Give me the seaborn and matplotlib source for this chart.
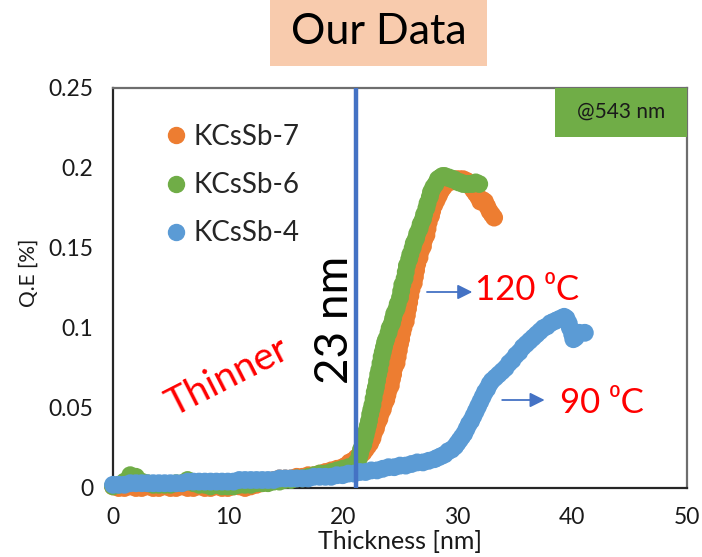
import matplotlib
matplotlib.use("Agg")
import matplotlib.pyplot as plt
from matplotlib.lines import Line2D
from matplotlib.patches import Rectangle
import pandas as pd
import seaborn as sns

# Samples, drawn in this order (KCsSb-4 ends up on top)
series_names = ["KCsSb-7", "KCsSb-6", "KCsSb-4"]
series_colors = ["#ED7D31", "#70AD47", "#5B9BD5"]

# KCsSb-7 (120 C)
kcssb7_thickness = [
    0.0, 0.5, 1.0, 1.5, 2.0, 2.5, 3.0, 3.5, 4.0, 4.5,
    5.0, 5.5, 6.0, 6.5, 7.0, 7.5, 8.0, 8.5, 9.0, 9.5,
    10.0, 10.5, 11.0, 11.5, 12.0, 12.5, 13.0, 13.5, 14.0, 14.5,
    15.0, 15.5, 16.0, 16.5, 17.0, 17.5, 18.0, 18.5, 19.0, 19.5,
    20.0, 20.3, 20.6, 20.9, 21.2, 21.5, 21.8, 22.0, 22.2, 22.4,
    22.6, 22.7, 22.9, 23.0, 23.2, 23.3, 23.5, 23.6, 23.8, 23.9,
    24.0, 24.2, 24.3, 24.4, 24.5, 24.7, 24.8, 24.9, 25.0, 25.1,
    25.2, 25.3, 25.5, 25.6, 25.7, 25.8, 25.9, 26.0, 26.2, 26.3,
    26.4, 26.5, 26.7, 26.8, 27.0, 27.1, 27.3, 27.4, 27.5, 27.7,
    27.8, 28.0, 28.2, 28.4, 28.6, 28.8, 29.0, 29.3, 29.6, 29.9,
    30.2, 30.5, 30.8, 31.0, 31.2, 31.4, 31.6, 31.8, 32.0, 32.2,
    32.4, 32.6, 32.8, 33.0, 33.2,
]
kcssb7_qe = [
    0.001, 0.000, 0.000, 0.001, 0.000, 0.000, 0.001, 0.000, 0.000, 0.001,
    0.000, 0.000, 0.001, 0.000, 0.000, 0.001, 0.000, 0.000, 0.001, 0.000,
    0.000, 0.001, 0.001, 0.000, 0.001, 0.002, 0.003, 0.004, 0.005, 0.006,
    0.006, 0.006, 0.007, 0.007, 0.008, 0.008, 0.009, 0.010, 0.011, 0.012,
    0.013, 0.014, 0.016, 0.017, 0.019, 0.020, 0.022, 0.024, 0.026, 0.028,
    0.031, 0.034, 0.037, 0.040, 0.043, 0.046, 0.049, 0.052, 0.055, 0.058,
    0.061, 0.064, 0.068, 0.071, 0.075, 0.078, 0.082, 0.086, 0.090, 0.093,
    0.097, 0.100, 0.104, 0.108, 0.112, 0.116, 0.120, 0.124, 0.128, 0.132,
    0.136, 0.140, 0.144, 0.148, 0.151, 0.155, 0.158, 0.162, 0.166, 0.170,
    0.173, 0.177, 0.180, 0.183, 0.186, 0.188, 0.190, 0.191, 0.192, 0.193,
    0.193, 0.193, 0.192, 0.190, 0.188, 0.186, 0.184, 0.182, 0.179, 0.180,
    0.179, 0.176, 0.173, 0.171, 0.169,
]

# KCsSb-6 (120 C)
kcssb6_thickness = [
    0.0, 0.5, 1.0, 1.5, 2.0, 2.5, 3.0, 3.5, 4.0, 4.5,
    5.0, 5.5, 6.0, 6.5, 7.0, 7.5, 8.0, 8.5, 9.0, 9.5,
    10.0, 10.5, 11.0, 11.5, 12.0, 12.5, 13.0, 13.5, 14.0, 14.5,
    15.0, 15.5, 16.0, 16.5, 17.0, 17.5, 18.0, 18.5, 19.0, 19.5,
    20.0, 20.5, 21.0, 21.2, 21.4, 21.5, 21.6, 21.8, 21.9, 22.0,
    22.1, 22.2, 22.3, 22.4, 22.5, 22.6, 22.7, 22.8, 22.9, 23.0,
    23.1, 23.2, 23.3, 23.4, 23.5, 23.6, 23.7, 23.8, 24.0, 24.1,
    24.3, 24.4, 24.5, 24.7, 24.8, 25.0, 25.1, 25.2, 25.4, 25.5,
    25.6, 25.8, 25.9, 26.1, 26.2, 26.4, 26.5, 26.7, 26.8, 27.0,
    27.1, 27.3, 27.4, 27.6, 27.7, 27.9, 28.1, 28.3, 28.5, 28.7,
    28.9, 29.1, 29.3, 29.5, 29.7, 29.9, 30.1, 30.3, 30.5, 30.8,
    31.0, 31.3, 31.6, 31.9,
]
kcssb6_qe = [
    0.001, 0.002, 0.004, 0.008, 0.007, 0.004, 0.003, 0.002, 0.002, 0.002,
    0.002, 0.003, 0.003, 0.005, 0.003, 0.002, 0.002, 0.001, 0.002, 0.001,
    0.001, 0.001, 0.002, 0.002, 0.002, 0.003, 0.003, 0.003, 0.004, 0.004,
    0.005, 0.005, 0.006, 0.006, 0.007, 0.008, 0.009, 0.009, 0.010, 0.011,
    0.012, 0.013, 0.014, 0.016, 0.018, 0.021, 0.024, 0.027, 0.030, 0.033,
    0.036, 0.039, 0.042, 0.046, 0.049, 0.052, 0.056, 0.060, 0.063, 0.067,
    0.071, 0.074, 0.078, 0.082, 0.085, 0.088, 0.091, 0.093, 0.097, 0.100,
    0.103, 0.106, 0.109, 0.112, 0.115, 0.119, 0.123, 0.127, 0.131, 0.135,
    0.139, 0.143, 0.146, 0.150, 0.153, 0.156, 0.159, 0.162, 0.165, 0.168,
    0.171, 0.175, 0.178, 0.182, 0.185, 0.188, 0.190, 0.193, 0.194, 0.195,
    0.195, 0.194, 0.194, 0.193, 0.193, 0.192, 0.191, 0.191, 0.190, 0.190,
    0.190, 0.190, 0.191, 0.190,
]

# KCsSb-4 (90 C)
kcssb4_thickness = [
    0.0, 0.5, 1.0, 1.5, 2.0, 2.5, 3.0, 3.5, 4.0, 4.5,
    5.0, 5.5, 6.0, 6.5, 7.0, 7.5, 8.0, 8.5, 9.0, 9.5,
    10.0, 10.5, 11.0, 11.5, 12.0, 12.5, 13.0, 13.5, 14.0, 14.5,
    15.0, 15.5, 16.0, 16.5, 17.0, 17.5, 18.0, 18.5, 19.0, 19.5,
    20.0, 20.5, 21.0, 21.5, 22.0, 22.5, 23.0, 23.5, 24.0, 24.5,
    25.0, 25.5, 26.0, 26.5, 27.0, 27.5, 28.0, 28.3, 28.6, 28.9,
    29.2, 29.5, 29.8, 30.0, 30.2, 30.4, 30.6, 30.8, 31.0, 31.2,
    31.4, 31.6, 31.8, 32.0, 32.2, 32.4, 32.6, 32.8, 33.0, 33.3,
    33.6, 33.9, 34.2, 34.5, 34.8, 35.1, 35.4, 35.7, 36.0, 36.3,
    36.6, 36.9, 37.2, 37.5, 37.8, 38.1, 38.4, 38.7, 39.0, 39.3,
    39.5, 39.7, 39.8, 40.0, 40.1, 40.3, 40.6, 41.1,
]
kcssb4_qe = [
    0.002, 0.002, 0.002, 0.003, 0.003, 0.003, 0.003, 0.003, 0.003, 0.003,
    0.003, 0.003, 0.003, 0.004, 0.004, 0.004, 0.004, 0.004, 0.004, 0.004,
    0.004, 0.004, 0.005, 0.005, 0.005, 0.005, 0.005, 0.005, 0.005, 0.006,
    0.006, 0.006, 0.006, 0.006, 0.006, 0.007, 0.007, 0.007, 0.007, 0.008,
    0.008, 0.009, 0.009, 0.010, 0.010, 0.011, 0.011, 0.012, 0.013, 0.013,
    0.014, 0.014, 0.015, 0.016, 0.016, 0.017, 0.018, 0.019, 0.020, 0.021,
    0.023, 0.024, 0.026, 0.028, 0.030, 0.032, 0.034, 0.037, 0.040, 0.042,
    0.045, 0.048, 0.051, 0.054, 0.057, 0.060, 0.062, 0.065, 0.067, 0.069,
    0.071, 0.073, 0.075, 0.078, 0.080, 0.083, 0.085, 0.088, 0.090, 0.092,
    0.094, 0.096, 0.098, 0.100, 0.101, 0.103, 0.104, 0.105, 0.106, 0.107,
    0.106, 0.103, 0.100, 0.096, 0.093, 0.094, 0.097, 0.097,
]

x_ticks = [0, 10, 20, 30, 40, 50]
y_ticks = [0, 0.05, 0.1, 0.15, 0.2, 0.25]
y_tick_labels = ["0", "0.05", "0.1", "0.15", "0.2", "0.25"]
critical_thickness = 21.2

frames = []
for name, xs, ys in zip(series_names,
                        [kcssb7_thickness, kcssb6_thickness, kcssb4_thickness],
                        [kcssb7_qe, kcssb6_qe, kcssb4_qe]):
    frames.append(pd.DataFrame({"Thickness": xs, "QE": ys, "Sample": name}))
df = pd.concat(frames, ignore_index=True)

sns.set_style("white")
plt.rcParams["font.family"] = ["Lato", "DejaVu Sans"]

fig = plt.figure(figsize=(7.02, 5.57), dpi=100)
ax = fig.add_axes([113 / 702, 1 - 488 / 557, 574 / 702, 400 / 557])

sns.scatterplot(data=df, x="Thickness", y="QE", hue="Sample",
                hue_order=series_names,
                palette=dict(zip(series_names, series_colors)),
                s=165, linewidth=0, alpha=1, clip_on=False,
                legend=False, ax=ax, zorder=3)

ax.set_xlim(0, 50)
ax.set_ylim(0, 0.25)
ax.set_xticks(x_ticks)
ax.set_yticks(y_ticks, y_tick_labels)
ax.tick_params(length=0, labelsize=16.5, pad=14, colors="#1a1a1a")

for side in ["left", "bottom"]:
    ax.spines[side].set_color("#262626")
    ax.spines[side].set_linewidth(1.6)
for side in ["top", "right"]:
    ax.spines[side].set_color("#6e6e6e")
    ax.spines[side].set_linewidth(1.6)

ax.set_xlabel("Thickness [nm]", fontsize=18, color="#1a1a1a")
ax.xaxis.set_label_coords(0.5, -0.105)
ax.set_ylabel("Q.E [%]", fontsize=15, color="#1a1a1a")
ax.yaxis.set_label_coords(-0.13, 0.5375)

# critical thickness marker
ax.axvline(critical_thickness, color="#4472C4", lw=3.2, zorder=4)
ax.text(19.34, 0.105, "23 nm", rotation=90, fontsize=33,
        ha="center", va="center", color="black")
ax.text(10.0, 0.069, "Thinner", rotation=27, fontsize=28, color="red",
        ha="center", va="center", rotation_mode="anchor")

# growth temperature labels
arrow_style = dict(arrowstyle="-|>", color="#4472C4", lw=1.3,
                   mutation_scale=22, shrinkA=0, shrinkB=0)
ax.annotate("", xy=(31.3, 0.1225), xytext=(27.35, 0.1225), arrowprops=arrow_style)
ax.text(31.5, 0.124, "120 \u2070C", fontsize=25, color="red",
        ha="left", va="center")
ax.annotate("", xy=(37.6, 0.055), xytext=(33.9, 0.055), arrowprops=arrow_style)
ax.text(38.94, 0.053, "90 \u2070C", fontsize=25, color="red",
        ha="left", va="center")

# wavelength tag
ax.add_patch(Rectangle((0.770, 0.878), 0.230, 0.122, transform=ax.transAxes,
                       facecolor="#70AD47", edgecolor="none", zorder=5,
                       clip_on=False))
ax.text(0.885, 0.94, "@543 nm", transform=ax.transAxes, fontsize=15,
        ha="center", va="center", color="#1a1a1a", zorder=6)

# legend
handles = [Line2D([], [], marker="o", ls="", color=c, markersize=11.5)
           for c in series_colors]
ax.legend(handles, series_names, loc="upper left", bbox_to_anchor=(0.085, 0.91),
          frameon=False, fontsize=20, handletextpad=0.15, labelspacing=0.8,
          handlelength=1.0, borderpad=0, borderaxespad=0)

# heading
fig.patches.append(Rectangle((270 / 702, 1 - 66 / 557), 217 / 702, 66 / 557,
                             transform=fig.transFigure, facecolor="#F8CBAD",
                             edgecolor="none"))
fig.text(378.5 / 702, 1 - 32 / 557, "Our Data", fontsize=31,
         ha="center", va="center", color="black")

fig.savefig("out.png", dpi=100, facecolor="white")
